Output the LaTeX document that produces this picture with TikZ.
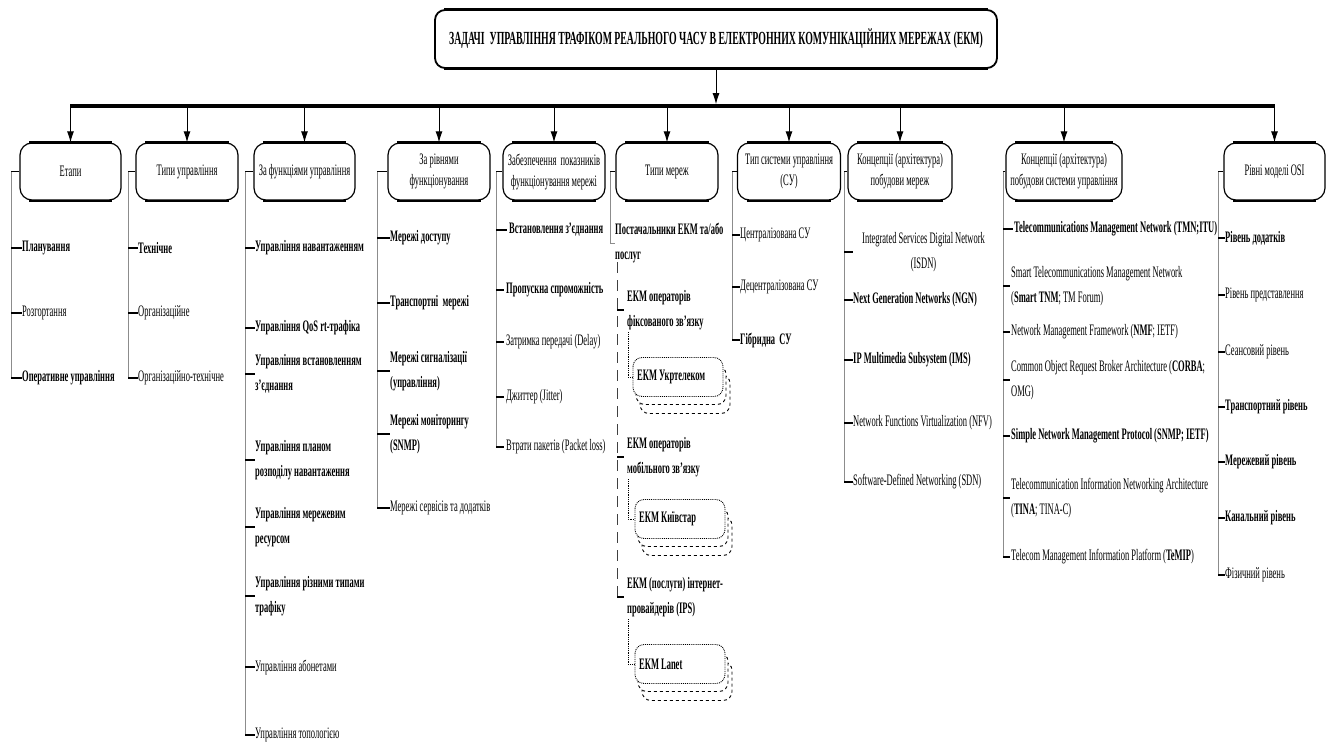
\documentclass[tikz,border=0pt]{standalone}
\usepackage{fontspec}
\setmainfont{Liberation Serif}[FakeStretch=0.53]
\usetikzlibrary{arrows.meta,calc}
\pgfdeclarelayer{back}
\pgfsetlayers{back,main}

\newcommand\itemfont{\fontsize{16}{25.5}\selectfont}
\newcommand\headfont{\fontsize{16}{21}\selectfont}
\newcommand\titlefont{\fontsize{18.5}{22}\selectfont\bfseries}

\tikzset{
  catbox/.style={draw, line width=1.2pt, rounded corners=12pt, minimum width=#1,
    minimum height=57pt, align=center, font=\headfont, inner xsep=1pt, inner ysep=2pt, fill=white},
  titlebox/.style={draw, line width=1.8pt, rounded corners=10pt, minimum width=562pt,
    minimum height=58pt, font=\titlefont, fill=white},
  it/.style={anchor=west, inner sep=0pt, align=left, font=\itemfont},
  bit/.style={it, font=\itemfont\bfseries},
  trunk/.style={draw=black!45, line width=0.9pt},
  tick/.style={draw=black, line width=1.1pt},
  arr/.style={draw=black, line width=1pt, -{Latex[length=11pt,width=7pt]}},
  bar/.style={draw=black, line width=3.6pt},
  ekmfront/.style={draw, densely dotted, line width=0.9pt, rounded corners=9pt, fill=white},
  ekmshadow/.style={draw, dashed, line width=0.9pt, rounded corners=9pt, fill=white},
  dotconn/.style={draw, densely dotted, line width=0.8pt},
  longdash/.style={draw=black!75, line width=0.9pt, dash pattern=on 11pt off 7pt},
}

\begin{document}
\begin{tikzpicture}[x=1pt,y=-1pt]
\begin{pgfonlayer}{back}
  \fill[white] (0,0) rectangle (1333,742);
\end{pgfonlayer}
\useasboundingbox (0,0) rectangle (1333,742);

% title and category boxes
\node[titlebox] (title) at (716,39)
  {ЗАДАЧІ\ \ УПРАВЛІННЯ ТРАФІКОМ РЕАЛЬНОГО ЧАСУ В ЕЛЕКТРОННИХ КОМУНІКАЦІЙНИХ МЕРЕЖАХ (ЕКМ)};

\node[catbox=101pt] (b1) at (70.5,171.5) {Етапи};
\node[catbox=102pt] (b2) at (187,171.5) {Типи управління};
\node[catbox=101pt] (b3) at (304.5,171.5) {За функціями управління};
\node[catbox=102pt] (b4) at (439,171.5) {За рівнями\\функціонування};
\node[catbox=102pt] (b5) at (554,171.5) {Забезпечення\ \ показників\\функціонування мережі};
\node[catbox=102pt] (b6) at (667,171.5) {Типи мереж};
\node[catbox=103pt] (b7) at (789,171.5) {Тип системи управління\\(СУ)};
\node[catbox=104pt] (b8) at (900,171.5) {Концепції (архітектура)\\побудови мереж};
\node[catbox=116pt] (b9) at (1064,171.5) {Концепції (архітектура)\\побудови системи управління};
\node[catbox=101pt] (b10) at (1274.5,171.5) {Рівні моделі OSI};

\foreach \b in {title,b1,b2,b3,b4,b5,b6,b7,b8,b9,b10}{
  \draw[line width=2.7pt] ([xshift=10pt]\b.north west) -- ([xshift=-10pt]\b.north east);
  \draw[line width=2.1pt] ([xshift=10pt]\b.south west) -- ([xshift=-10pt]\b.south east);
}

% distribution bar and arrows
\coordinate (barlevel) at (0,106);
\draw[arr, shorten >=1.8pt] (title.south) -- (title.south |- barlevel);
\draw[bar] ([xshift=-0.5pt]b1.north |- barlevel) -- ([xshift=0.5pt]b10.north |- barlevel);
\foreach \b in {b1,b2,b3,b4,b5,b6,b7,b8,b9,b10}
  \draw[arr] (\b.north |- barlevel) -- (\b.north);

% column 1
\node[bit] (c1a) at (22,248) {Планування};
\node[it]  (c1b) at (22,313) {Розгортання};
\node[bit] (c1c) at (22,378) {Оперативне управління};
\coordinate (k1) at (11,171.5);
\draw[tick] (b1.west) -- (k1);
\draw[trunk] (k1) -- (k1 |- c1c.west);
\foreach \i in {c1a,c1b,c1c} \draw[tick] (k1 |- \i.west) -- (\i.west);

% column 2
\node[bit] (c2a) at (138,248) {Технічне};
\node[it]  (c2b) at (138,313) {Організаційне};
\node[it]  (c2c) at (138,378) {Організаційно-технічне};
\coordinate (k2) at (128,171.5);
\draw[tick] (b2.west) -- (k2);
\draw[trunk] (k2) -- (k2 |- c2c.west);
\foreach \i in {c2a,c2b,c2c} \draw[tick] (k2 |- \i.west) -- (\i.west);

% column 3
\node[bit] (c3a) at (255,248) {Управління навантаженням};
\node[bit] (c3b) at (255,328) {Управління QoS rt-трафіка};
\node[bit] (c3c) at (255,374) {Управління встановленням\\з’єднання};
\node[bit] (c3d) at (255,460) {Управління планом\\розподілу навантаження};
\node[bit] (c3e) at (255,527) {Управління мережевим\\ресурсом};
\node[bit] (c3f) at (255,596) {Управління різними типами\\трафіку};
\node[it]  (c3g) at (255,667) {Управління абонетами};
\node[it]  (c3h) at (255,735) {Управління топологією};
\coordinate (k3) at (245,171.5);
\draw[tick] (b3.west) -- (k3);
\draw[trunk] (k3) -- (k3 |- c3h.west);
\foreach \i in {c3a,c3b,c3c,c3d,c3e,c3f,c3g,c3h} \draw[tick] (k3 |- \i.west) -- (\i.west);

% column 4
\node[bit] (c4a) at (390,238) {Мережі доступу};
\node[bit] (c4b) at (390,303) {Транспортні\ \ мережі};
\node[bit] (c4c) at (390,371) {Мережі сигналізації\\(управління)};
\node[bit] (c4d) at (390,434) {Мережі моніторингу\\(SNMP)};
\node[it]  (c4e) at (390,508) {Мережі сервісів та додатків};
\coordinate (k4) at (377,171.5);
\draw[tick] (b4.west) -- (k4);
\draw[trunk] (k4) -- (k4 |- c4e.west);
\foreach \i in {c4a,c4b,c4c,c4d,c4e} \draw[tick] (k4 |- \i.west) -- (\i.west);

% column 5
\node[bit] (c5a) at (509,230) {Встановлення з’єднання};
\node[bit] (c5b) at (506,290) {Пропускна спроможність};
\node[it]  (c5c) at (506,342) {Затримка передачі (Delay)};
\node[it]  (c5d) at (506,397) {Джиттер (Jitter)};
\node[it]  (c5e) at (506,447) {Втрати пакетів (Packet loss)};
\coordinate (k5) at (496,171.5);
\draw[tick] (b5.west) -- (k5);
\draw[trunk] (k5) -- (k5 |- c5e.west);
\foreach \i in {c5a,c5b,c5c,c5d,c5e} \draw[tick, shorten >=2pt] (k5 |- \i.west) -- (\i.west);

% column 6: operators with stacked network boxes
\node[bit] (c6a) at (615,243) {Постачальники ЕКМ та/або\\послуг};
\node[bit] (c6b) at (627,310) {ЕКМ операторів\\фіксованого зв'язку};
\node[bit] (u1) at (637,377) {ЕКМ Укртелеком};
\node[bit] (c6c) at (627,457) {ЕКМ операторів\\мобільного зв'язку};
\node[bit] (u2) at (639,519) {ЕКМ Київстар};
\node[bit] (c6d) at (627,597) {ЕКМ (послуги) інтернет-\\провайдерів (IPS)};
\node[bit] (u3) at (639,664) {ЕКМ Lanet};
\begin{pgfonlayer}{back}
  \foreach \u in {u1,u2,u3}{
    \draw[ekmshadow] ($(\u.west)+(3,-2.5)$) rectangle ++(90,39);
    \draw[ekmshadow] ($(\u.west)+(-1,-11.5)$) rectangle ++(90,39);
    \draw[ekmfront] ($(\u.west)+(-4,-19.5)$) rectangle ++(90,39);
  }
\end{pgfonlayer}
\coordinate (k6) at (610,171.5);
\draw[tick] (b6.west) -- (k6);
\draw[trunk] (k6) |- (c6a.west);
\coordinate (d6) at (617,262);
\draw[longdash] (d6) -- (d6 |- c6d.west);
\foreach \i in {c6b,c6c,c6d} \draw[tick, shorten >=3pt] (d6 |- \i.west) -- (\i.west);
\draw[dotconn, shorten >=4pt] ($(c6b.south west)+(1,2)$) |- (u1.west);
\draw[dotconn, shorten >=4pt] ($(c6c.south west)+(1,2)$) |- (u2.west);
\draw[dotconn, shorten >=4pt] ($(c6d.south west)+(1,2)$) |- (u3.west);

% column 7
\node[it]  (c7a) at (740,235) {Централізована СУ};
\node[it]  (c7b) at (740,287) {Децентралізована СУ};
\node[bit] (c7c) at (740,340) {Гібридна\ \ СУ};
\coordinate (k7) at (732,171.5);
\draw[tick] (b7.west) -- (k7);
\draw[trunk] (k7) -- (k7 |- c7c.west);
\foreach \i in {c7a,c7b,c7c} \draw[tick] (k7 |- \i.west) -- (\i.west);

% column 8
\node[it, align=center] (c8a) at (862,252) {Integrated Services Digital Network\\(ISDN)};
\node[bit] (c8b) at (853,300) {Next Generation Networks (NGN)};
\node[bit] (c8c) at (853,360) {IP Multimedia Subsystem (IMS)};
\node[it]  (c8d) at (853,423) {Network Functions Virtualization (NFV)};
\node[it]  (c8e) at (853,482) {Software-Defined Networking (SDN)};
\coordinate (k8) at (844,171.5);
\draw[tick] (b8.west) -- (k8);
\draw[trunk] (k8) -- (k8 |- c8e.west);
\draw[tick] (k8 |- c8a.west) -- ++(9,0);
\foreach \i in {c8b,c8c,c8d,c8e} \draw[tick] (k8 |- \i.west) -- (\i.west);

% column 9
\node[bit] (c9a) at (1014,229) {Telecommunications Management Network (TMN;ITU)};
\node[it]  (c9b) at (1011,286) {Smart Telecommunications Management Network\\(\textbf{Smart TNM}; TM Forum)};
\node[it]  (c9c) at (1011,332) {Network Management Framework (\textbf{NMF}; IETF)};
\node[it]  (c9d) at (1011,380) {Common Object Request Broker Architecture (\textbf{CORBA};\\OMG)};
\node[bit] (c9e) at (1011,436) {Simple Network Management Protocol (SNMP; IETF)};
\node[it]  (c9f) at (1011,498) {Telecommunication Information Networking Architecture\\(\textbf{TINA}; TINA-C)};
\node[it]  (c9g) at (1011,557) {Telecom Management Information Platform (\textbf{TeMIP})};
\coordinate (k9) at (1003,171.5);
\draw[tick] (b9.west) -- (k9);
\draw[trunk] (k9) -- (k9 |- c9g.west);
\foreach \i in {c9a,c9b,c9c,c9d,c9e,c9f,c9g} \draw[tick, shorten >=1pt] (k9 |- \i.west) -- (\i.west);

% column 10
\node[bit] (c10a) at (1225,238) {Рівень додатків};
\node[it]  (c10b) at (1225,295) {Рівень представлення};
\node[it]  (c10c) at (1225,352) {Сеансовий рівень};
\node[bit] (c10d) at (1225,407) {Транспортний рівень};
\node[bit] (c10e) at (1225,462) {Мережевий рівень};
\node[bit] (c10f) at (1225,518) {Канальний рівень};
\node[it]  (c10g) at (1225,575) {Фізичний рівень};
\coordinate (k10) at (1218,171.5);
\draw[tick] (b10.west) -- (k10);
\draw[trunk] (k10) -- (k10 |- c10g.west);
\foreach \i in {c10a,c10b,c10c,c10d,c10e,c10f,c10g} \draw[tick] (k10 |- \i.west) -- (\i.west);
\end{tikzpicture}
\end{document}
